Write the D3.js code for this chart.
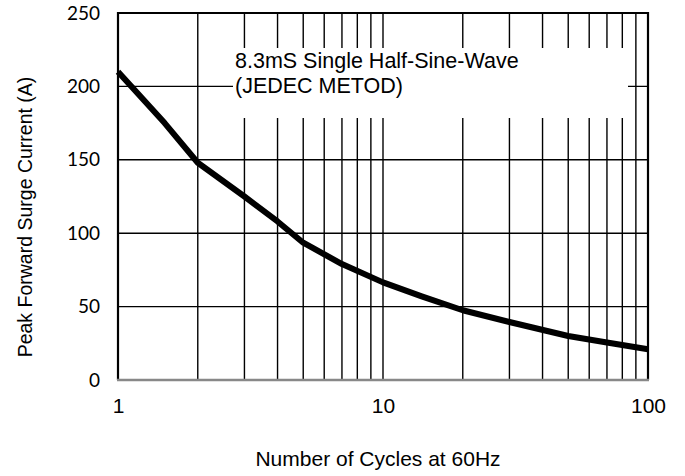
<!DOCTYPE html>
<html>
<head>
<meta charset="utf-8">
<script src="https://cdn.jsdelivr.net/npm/d3@7"></script>
<style>
  body { margin: 0; background: #fff; }
  svg { display: block; }
</style>
</head>
<body>
<svg width="685" height="476"></svg>
<script>
// surge current vs number of cycles
var cycles = [1, 1.5, 2, 3, 4, 5, 7, 10, 14, 20, 30, 50, 70, 100];
var current = [210, 175, 148, 125, 108, 93.5, 79, 66.5, 57, 47.5, 39.5, 30, 25.5, 21];

var yTicks = [0, 50, 100, 150, 200, 250];
var xTicks = [1, 10, 100];
var xGrid = [2, 3, 4, 5, 6, 7, 8, 9, 10, 20, 30, 40, 50, 60, 70, 80, 90];

var svg = d3.select("svg"),
	plotL = 118, plotR = 648, plotT = 13, plotB = 380;

var x = d3.scaleLog().domain([1, 100]).range([plotL, plotR]);
var y = d3.scaleLinear().domain([0, 250]).range([plotB, plotT]);

var g = svg.append("g");

// grid
g.append("g").selectAll("line")
	.data(xGrid)
	.enter().append("line")
	.attr("x1", function (d) { return x(d); })
	.attr("x2", function (d) { return x(d); })
	.attr("y1", y(0))
	.attr("y2", y(250))
	.attr("stroke", "#000")
	.attr("stroke-width", 1.4);

g.append("g").selectAll("line")
	.data(yTicks.slice(1, -1))
	.enter().append("line")
	.attr("x1", plotL)
	.attr("x2", plotR)
	.attr("y1", function (d) { return y(d); })
	.attr("y2", function (d) { return y(d); })
	.attr("stroke", "#000")
	.attr("stroke-width", 1.4);

// white patch behind the note
g.append("rect")
	.attr("x", 233)
	.attr("y", 48)
	.attr("width", 395)
	.attr("height", 70)
	.attr("fill", "#fff");

// frame
g.append("line")
	.attr("x1", plotL).attr("x2", plotR)
	.attr("y1", y(250)).attr("y2", y(250))
	.attr("stroke", "#000").attr("stroke-width", 2.2);
g.append("line")
	.attr("x1", plotL).attr("x2", plotL)
	.attr("y1", y(250) - 1).attr("y2", y(0))
	.attr("stroke", "#000").attr("stroke-width", 2.2);
g.append("line")
	.attr("x1", plotR).attr("x2", plotR)
	.attr("y1", y(250) - 1).attr("y2", y(0))
	.attr("stroke", "#000").attr("stroke-width", 2.2);
g.append("line")
	.attr("x1", plotL - 1).attr("x2", plotR + 1)
	.attr("y1", y(0)).attr("y2", y(0))
	.attr("stroke", "#888").attr("stroke-width", 2.5);

// curve
var line = d3.line()
	.x(function (d) { return x(d[0]); })
	.y(function (d) { return y(d[1]); });

g.append("path")
	.datum(d3.zip(cycles, current))
	.attr("d", line)
	.attr("fill", "none")
	.attr("stroke", "#000")
	.attr("stroke-width", 6)
	.attr("stroke-linejoin", "round");

// axes labels
var yAxis = g.append("g")
	.attr("transform", "translate(" + (plotL - 18) + ",0)")
	.call(d3.axisLeft(y).tickValues(yTicks).tickSize(0).tickPadding(0));
yAxis.select(".domain").remove();
yAxis.selectAll("text")
	.attr("font-family", "Lato, 'Liberation Sans', sans-serif")
	.attr("font-size", 19)
	.attr("fill", "#000");

var xAxis = g.append("g")
	.attr("transform", "translate(0," + plotB + ")")
	.call(d3.axisBottom(x).tickValues(xTicks).tickFormat(d3.format("d")).tickSize(0).tickPadding(18));
xAxis.select(".domain").remove();
xAxis.selectAll("text")
	.attr("font-family", "'Liberation Sans', Arial, sans-serif")
	.attr("font-size", 21)
	.attr("fill", "#000");

// titles
svg.append("text")
	.attr("x", (plotL + plotR) / 2 - 5)
	.attr("y", 466)
	.attr("text-anchor", "middle")
	.attr("font-family", "'Liberation Sans', Arial, sans-serif")
	.attr("font-size", 21)
	.text("Number of Cycles at 60Hz");

svg.append("text")
	.attr("transform", "translate(32,217) rotate(-90)")
	.attr("text-anchor", "middle")
	.attr("font-family", "'Liberation Sans', Arial, sans-serif")
	.attr("font-size", 19.5)
	.text("Peak Forward Surge Current (A)");

// note
var note = svg.append("text")
	.attr("font-family", "'Liberation Sans', Arial, sans-serif")
	.attr("font-size", 21.5);
note.append("tspan").attr("x", 235).attr("y", 68).text("8.3mS Single Half-Sine-Wave");
note.append("tspan").attr("x", 235).attr("y", 93).text("(JEDEC METOD)");
</script>
</body>
</html>
